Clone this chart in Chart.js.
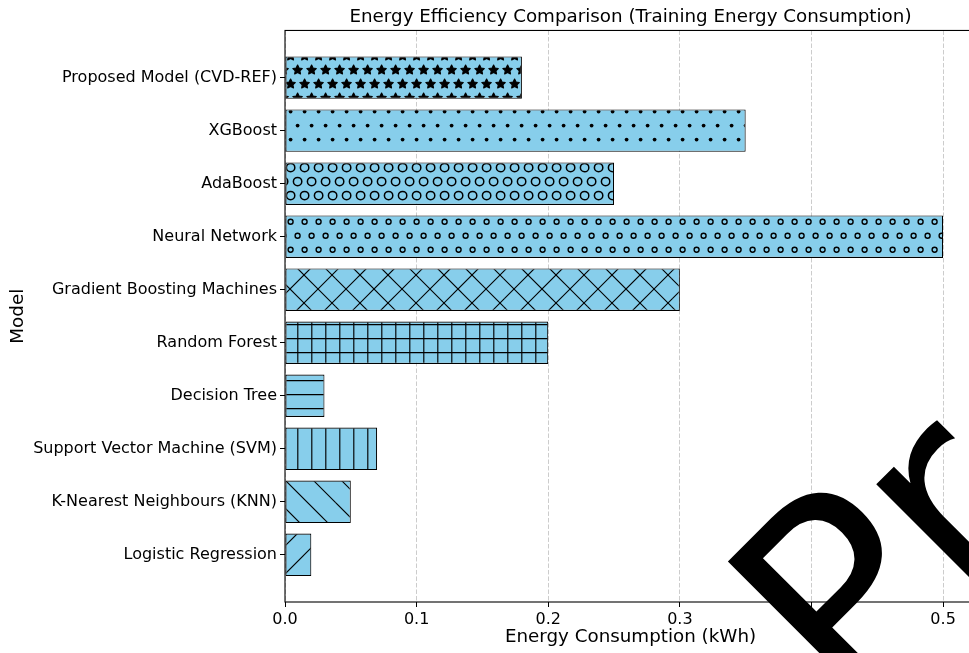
<!DOCTYPE html>
<html>
<head>
<meta charset="utf-8">
<script src="https://cdn.jsdelivr.net/npm/chart.js@4.4.1/dist/chart.umd.min.js"></script>
<style>
  html, body { margin: 0; padding: 0; background: #fff; overflow: hidden; }
  canvas { display: block; }
</style>
</head>
<body>
<canvas id="chart" width="1000" height="653"></canvas>
<script>
// Models, listed from the bottom row to the top row
const models = [
  'Logistic Regression',
  'K-Nearest Neighbours (KNN)',
  'Support Vector Machine (SVM)',
  'Decision Tree',
  'Random Forest',
  'Gradient Boosting Machines',
  'Neural Network',
  'AdaBoost',
  'XGBoost',
  'Proposed Model (CVD-REF)'
];
// Training energy consumption (kWh), same order as models
const energyKWh = [0.02, 0.05, 0.07, 0.03, 0.20, 0.30, 0.50, 0.25, 0.35, 0.18];
// Tick values on the energy axis
const xTickValues = [0.0, 0.1, 0.2, 0.3, 0.4, 0.5];

const titleText = 'Energy Efficiency Comparison (Training Energy Consumption)';
const xAxisLabel = 'Energy Consumption (kWh)';
const yAxisLabel = 'Model';
const watermarkText = 'Preprint';

// ---- styling ----
const FONT = '"DejaVu Sans", "Liberation Sans", sans-serif';
const BAR_FILL = '#87ceeb';
const hatchKinds = ['/', '\\', '|', '-', '+', 'x', 'o', 'O', '.', '*'];

const STEP = 14;      // hatch spacing in px
const TILE = 84;      // pattern tile size (multiple of 2*STEP)

function hatchPattern(ctx, kind) {
  const c = document.createElement('canvas');
  c.width = c.height = TILE;
  const g = c.getContext('2d');
  g.fillStyle = BAR_FILL;
  g.fillRect(0, 0, TILE, TILE);
  g.strokeStyle = '#000';
  g.fillStyle = '#000';
  g.lineWidth = 1.15;
  const line = (x1, y1, x2, y2) => { g.beginPath(); g.moveTo(x1, y1); g.lineTo(x2, y2); g.stroke(); };

  if (kind === '|' || kind === '+') {
    for (let x = 3.8 - STEP; x < TILE + STEP; x += STEP) line(x, -2, x, TILE + 2);
  }
  if (kind === '-' || kind === '+') {
    for (let y = 2.6 - STEP; y < TILE + STEP; y += STEP) line(-2, y, TILE + 2, y);
  }
  if (kind === '/' || kind === 'x') {
    for (let k = 19 - 4 * STEP; k < 2 * TILE + 4 * STEP; k += 2 * STEP) line(k + 10, -10, k - TILE - 10, TILE + 10);
  }
  if (kind === '\\' || kind === 'x') {
    for (let d = 1 - TILE - 4 * STEP; d < TILE + 4 * STEP; d += 2 * STEP) line(d - 10, -10, d + TILE + 10, TILE + 10);
  }

  // staggered rows of small shapes
  const rows = (y0, draw) => {
    for (let y = y0 - 2 * STEP; y < TILE + 2 * STEP; y += 2 * STEP) {
      for (let x = 3.6 - STEP; x < TILE + STEP; x += STEP) draw(x, y);
      for (let x = 10.6 - STEP; x < TILE + STEP; x += STEP) draw(x, y + STEP);
    }
  };
  if (kind === '.') {
    rows(13.6, (x, y) => { g.beginPath(); g.arc(x, y, 1.9, 0, Math.PI * 2); g.fill(); });
  }
  if (kind === 'o') {
    g.lineWidth = 1.35;
    rows(11.7, (x, y) => { g.beginPath(); g.arc(x, y, 2.5, 0, Math.PI * 2); g.stroke(); });
  }
  if (kind === 'O') {
    g.lineWidth = 1.5;
    rows(13.6, (x, y) => { g.beginPath(); g.arc(x, y, 4.2, 0, Math.PI * 2); g.stroke(); });
  }
  if (kind === '*') {
    g.lineWidth = 1.2;
    g.lineJoin = 'round';
    const R = 4.9, r = R * 0.5;
    rows(14, (x, y) => {
      g.beginPath();
      for (let i = 0; i < 10; i++) {
        const a = -Math.PI / 2 + i * Math.PI / 5;
        const rad = i % 2 === 0 ? R : r;
        const px = x + rad * Math.cos(a), py = y + rad * Math.sin(a);
        if (i === 0) g.moveTo(px, py); else g.lineTo(px, py);
      }
      g.closePath();
      g.fill();
      g.stroke();
    });
  }
  return ctx.createPattern(c, 'repeat');
}

// frame around the plot area and the diagonal stamp on top
const frameAndStamp = {
  id: 'frameAndStamp',
  afterDatasetsDraw(chart) {
    const { ctx, chartArea: a } = chart;
    ctx.save();
    ctx.strokeStyle = '#000';
    ctx.lineWidth = 1.1;
    ctx.strokeRect(a.left, a.top, a.right - a.left, a.bottom - a.top);
    ctx.restore();
  },
  afterDraw(chart) {
    const { ctx } = chart;
    ctx.save();
    ctx.translate(851, 723);
    ctx.rotate(-Math.PI / 4);
    ctx.font = '276px ' + FONT;
    ctx.fillStyle = '#000';
    ctx.textAlign = 'left';
    ctx.textBaseline = 'alphabetic';
    ctx.fillText(watermarkText, 0, 0);
    ctx.restore();
  }
};

const canvas = document.getElementById('chart');
const ctx = canvas.getContext('2d');
const patterns = hatchKinds.map(k => hatchPattern(ctx, k));

new Chart(ctx, {
  type: 'bar',
  data: {
    datasets: [{
      data: energyKWh.map((v, i) => ({ x: v, y: i })),
      backgroundColor: patterns,
      borderColor: '#000',
      borderWidth: 1.1,
      borderSkipped: false,
      barPercentage: 0.8,
      categoryPercentage: 1.0
    }]
  },
  options: {
    indexAxis: 'y',
    responsive: false,
    animation: false,
    devicePixelRatio: 1,
    layout: { padding: { left: 0, right: 24, top: 0, bottom: 0 } },
    plugins: {
      legend: { display: false },
      tooltip: { enabled: false },
      title: {
        display: true,
        text: titleText,
        fullSize: false,
        color: '#000',
        font: { family: FONT, size: 18.3, weight: 'normal' },
        padding: { top: 6.5, bottom: 2 }
      }
    },
    scales: {
      x: {
        type: 'linear',
        position: 'bottom',
        min: 0,
        max: 0.525,
        offset: false,
        afterBuildTicks: s => { s.ticks = xTickValues.map(v => ({ value: v })); },
        afterFit: s => { s.height = 51; },
        ticks: {
          callback: v => Number(v).toFixed(1),
          color: '#000',
          font: { family: FONT, size: 16 },
          padding: 3,
          maxRotation: 0,
          autoSkip: false
        },
        grid: {
          offset: false,
          color: 'rgba(176,176,176,0.65)',
          lineWidth: 1,
          tickColor: '#000',
          tickWidth: 1,
          tickLength: 5,
          tickBorderDash: []
        },
        border: { display: false, dash: [4.5, 2] },
        title: {
          display: true,
          text: xAxisLabel,
          color: '#000',
          font: { family: FONT, size: 18.3 },
          padding: { top: 0, bottom: 5 }
        }
      },
      y: {
        type: 'linear',
        position: 'left',
        min: -0.89,
        max: 9.89,
        offset: false,
        afterBuildTicks: s => { s.ticks = models.map((_, i) => ({ value: i })); },
        afterFit: s => { s.width = 285; },
        ticks: {
          callback: v => models[v],
          color: '#000',
          font: { family: FONT, size: 16 },
          padding: 3,
          autoSkip: false
        },
        grid: {
          offset: false,
          drawOnChartArea: false,
          tickColor: '#000',
          tickWidth: 1,
          tickLength: 5
        },
        border: { display: false },
        title: {
          display: true,
          text: yAxisLabel,
          color: '#000',
          font: { family: FONT, size: 18.3 },
          padding: { top: 7, bottom: 0 }
        }
      }
    }
  },
  plugins: [frameAndStamp]
});
</script>
</body>
</html>
